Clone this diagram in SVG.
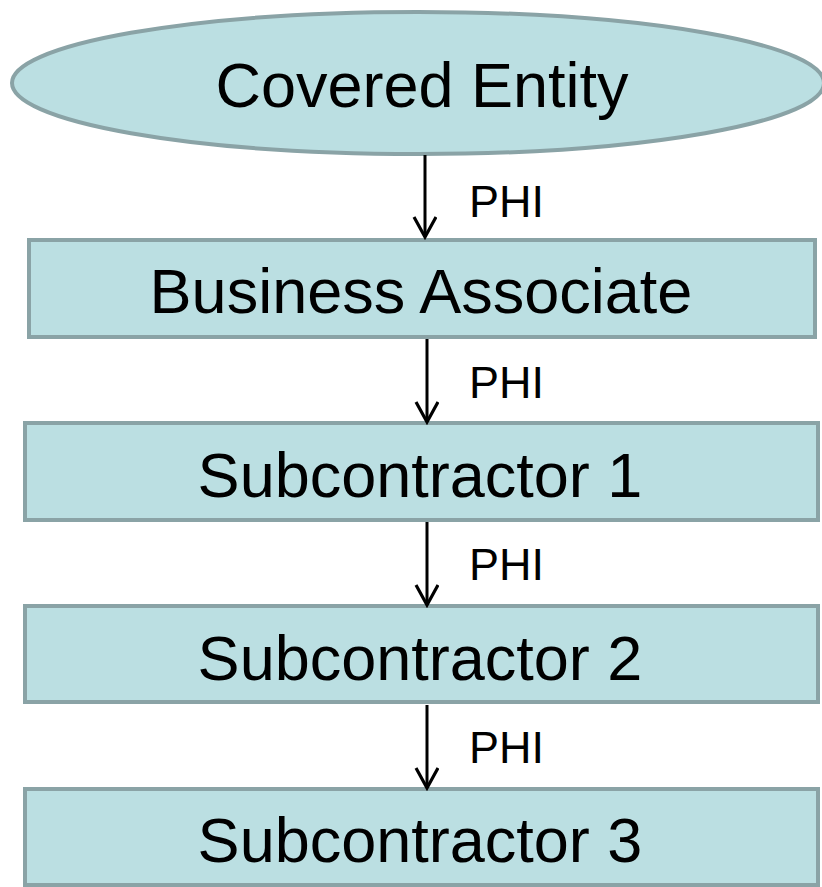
<svg xmlns="http://www.w3.org/2000/svg" width="822" height="887" viewBox="0 0 822 887">
<style>
.node{fill:#bbdfe2;stroke:#8aa3a6;stroke-width:4}
.lbl{font-family:"Liberation Sans",Arial,sans-serif;font-size:63px;fill:#000;text-anchor:middle}
.phi{font-family:"Liberation Sans",Arial,sans-serif;font-size:45px;fill:#000}
.conn{stroke:#000;stroke-width:3;fill:none}
</style>
<defs>
<marker id="arr" markerWidth="24" markerHeight="26" refX="21" refY="12" orient="auto" markerUnits="userSpaceOnUse" viewBox="0 0 24 26">
<path d="M1,1 L21,12 L1,23" fill="none" stroke="#000" stroke-width="3.2"/>
</marker>
</defs>
<rect width="822" height="887" fill="#fff"/>
<g id="covered-entity">
<ellipse class="node" cx="418" cy="83" rx="406" ry="71"/>
<text class="lbl" x="422" y="107">Covered Entity</text>
</g>
<g id="business-associate">
<rect class="node" x="29" y="240" width="786" height="97"/>
<text class="lbl" x="421" y="313">Business Associate</text>
</g>
<g id="subcontractor-1">
<rect class="node" x="25" y="423" width="793" height="97"/>
<text class="lbl" x="420" y="497">Subcontractor 1</text>
</g>
<g id="subcontractor-2">
<rect class="node" x="25" y="606" width="793" height="96"/>
<text class="lbl" x="420" y="680">Subcontractor 2</text>
</g>
<g id="subcontractor-3">
<rect class="node" x="25" y="789" width="793" height="96"/>
<text class="lbl" x="420" y="862">Subcontractor 3</text>
</g>
<g id="connectors">
<line class="conn" x1="425" y1="155" x2="425" y2="237" marker-end="url(#arr)"/>
<line class="conn" x1="427" y1="339" x2="427" y2="422" marker-end="url(#arr)"/>
<line class="conn" x1="427" y1="522" x2="427" y2="605" marker-end="url(#arr)"/>
<line class="conn" x1="427" y1="705" x2="427" y2="788" marker-end="url(#arr)"/>
<text class="phi" x="469" y="217">PHI</text>
<text class="phi" x="469" y="398">PHI</text>
<text class="phi" x="469" y="580">PHI</text>
<text class="phi" x="469" y="763">PHI</text>
</g>
</svg>
